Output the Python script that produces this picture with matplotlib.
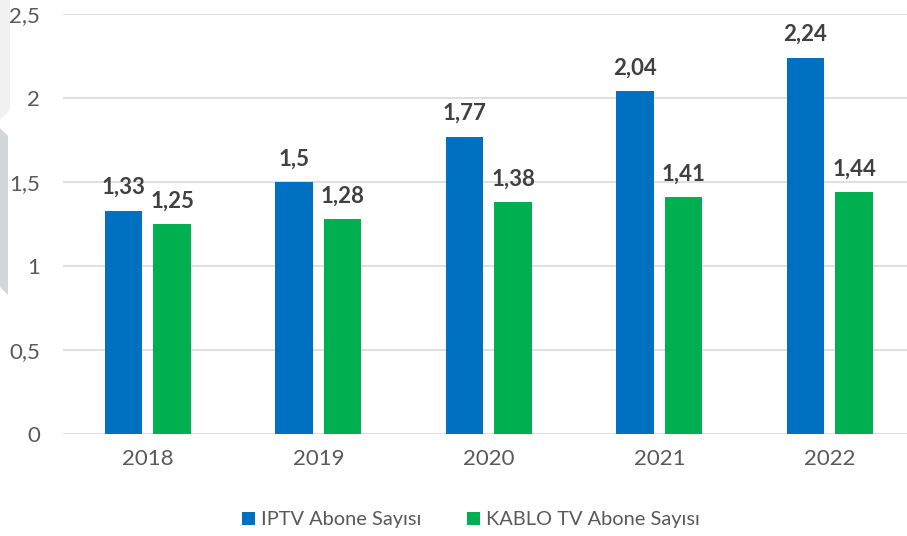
#!/usr/bin/python

import matplotlib
matplotlib.use("Agg")
import matplotlib.pyplot as plt
from matplotlib.patches import Polygon
import numpy as np

years = ["2018", "2019", "2020", "2021", "2022"]
iptv = [1.33, 1.50, 1.77, 2.04, 2.24]
kablo = [1.25, 1.28, 1.38, 1.41, 1.44]
yticks = [0, 0.5, 1, 1.5, 2, 2.5]
series_names = ["IPTV Abone Sayısı", "KABLO TV Abone Sayısı"]

BLUE = "#0070C0"
GREEN = "#00B050"


def tr_num(v):
    s = ("%.2f" % v).rstrip("0").rstrip(".")
    return s.replace(".", ",")


def main():
    plt.rcParams['font.family'] = ['Lato', 'DejaVu Sans']

    W, H = 907, 536
    fig = plt.figure(figsize=(W / 100, H / 100), dpi=100)

    # light decoration on the left edge of the slide
    fig.patches.append(Polygon([(0, 1), (10 / W, 1), (10 / W, 1 - 110 / H), (0, 1 - 120 / H)],
                               closed=True, transform=fig.transFigure,
                               facecolor="#f1f1f2", edgecolor="none"))
    fig.patches.append(Polygon([(0, 1 - 128 / H), (8 / W, 1 - 136 / H), (8 / W, 1 - 295 / H),
                                (0, 1 - 287 / H)],
                               closed=True, transform=fig.transFigure,
                               facecolor="#d5d6d9", edgecolor="none"))

    ax = fig.add_axes([62.5 / W, 1 - 434 / H, 852.5 / W, 420 / H])
    ax.patch.set_alpha(0)

    x = np.arange(len(years))
    off = 0.1425
    w = 0.221
    b1 = ax.bar(x - off, iptv, w, color=BLUE, label=series_names[0], zorder=3)
    b2 = ax.bar(x + off, kablo, w, color=GREEN, label=series_names[1], zorder=3)

    for bars, vals in ((b1, iptv), (b2, kablo)):
        for r, v in zip(bars, vals):
            ax.annotate(tr_num(v), (r.get_x() + r.get_width() / 2, v),
                        xytext=(0, 9), textcoords="offset points",
                        ha="center", va="bottom", fontsize=16,
                        fontweight="bold", color="#404040")

    ax.set_xlim(-0.5, len(years) - 0.5)
    ax.set_ylim(0, 2.5)
    ax.set_yticks(yticks)
    ax.set_yticklabels([tr_num(t) for t in yticks])
    ax.set_xticks(x)
    ax.set_xticklabels(years)
    ax.tick_params(axis="y", length=0, pad=16, labelsize=16, labelcolor="#595959")
    ax.tick_params(axis="x", length=0, pad=11, labelsize=16, labelcolor="#595959")
    ax.grid(axis="y", color="#d9d9d9", linewidth=1.2, zorder=0)
    for s in ax.spines.values():
        s.set_visible(False)

    fig.legend(handles=[b1, b2], loc="center", bbox_to_anchor=(471 / W, 16 / H),
               ncol=2, frameon=False, fontsize=14.4, labelcolor="#595959",
               handlelength=0.65, handleheight=0.65, handletextpad=0.3,
               columnspacing=2.3)

    fig.savefig("out.png", dpi=100)


if __name__ == "__main__":
    main()
